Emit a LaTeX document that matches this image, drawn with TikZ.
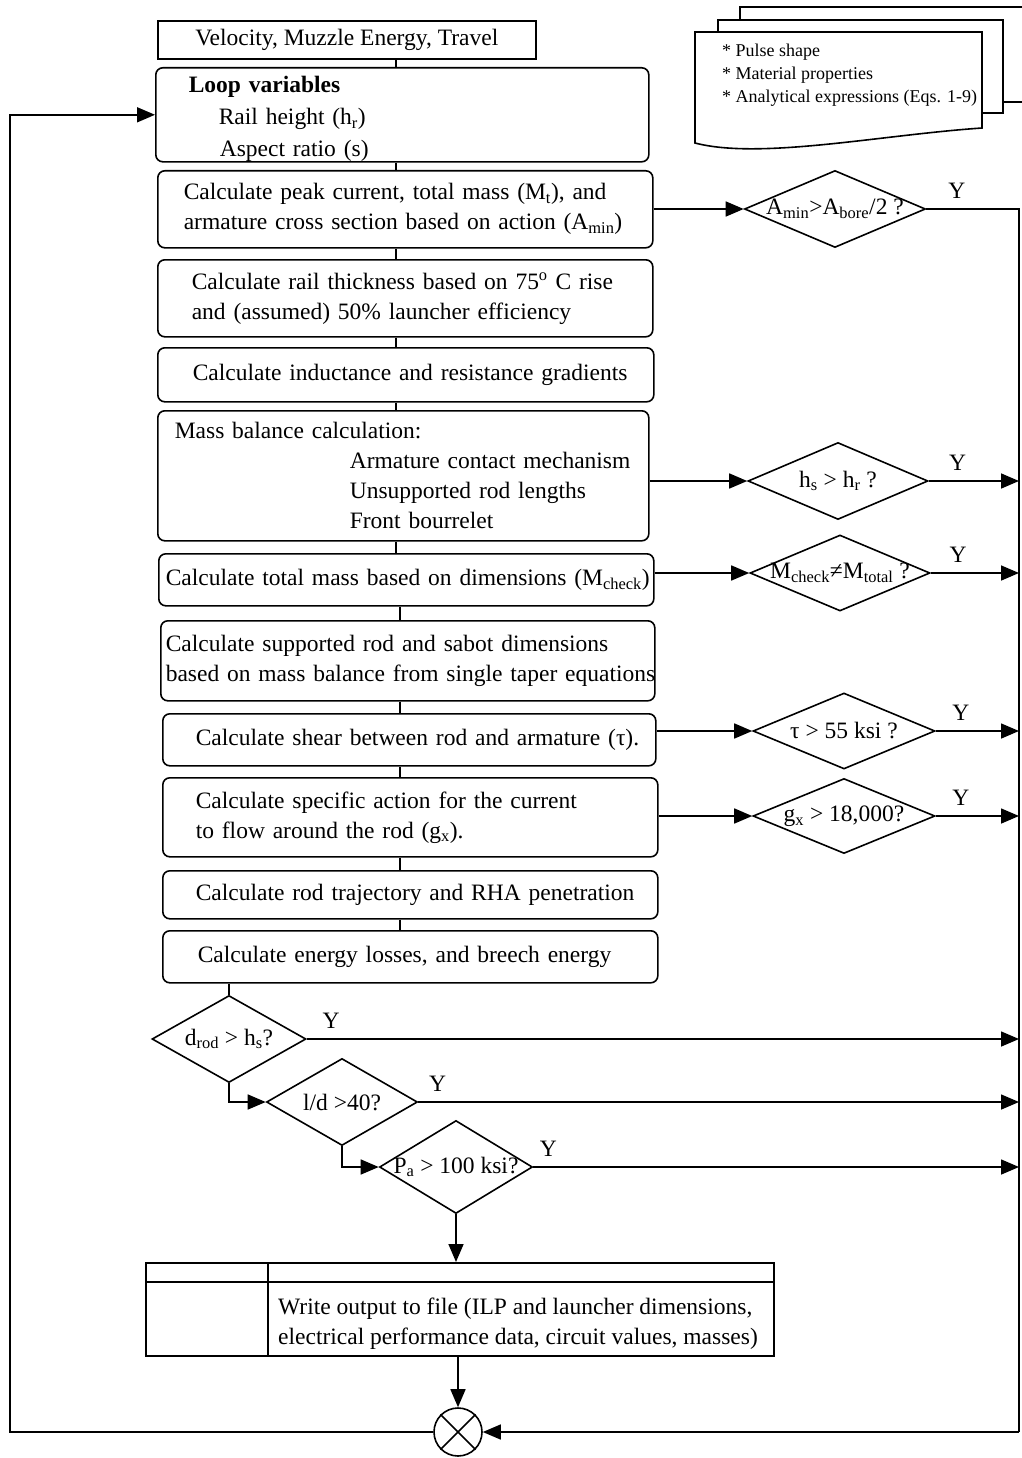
\documentclass[tikz,border=0pt]{standalone}
\usepackage{fontspec}
\setmainfont{Liberation Serif}
\usepackage{tikz}
\usetikzlibrary{positioning, arrows.meta, calc, shapes.geometric}

\newcommand{\qt}[1]{\makebox[0pt]{#1}}
\newcommand{\sub}[1]{\textsubscript{#1}}

\tikzset{
  stage/.style={draw, rounded corners=7pt, line width=1.6pt, anchor=north west, align=left, inner ysep=0pt},
  test/.style={draw, diamond, line width=1.6pt, inner sep=0pt},
  link/.style={line width=1.6pt},
  flow/.style={line width=1.6pt, -{Triangle[length=18pt,width=15pt]}},
  yes/.style={above=8pt, inner sep=2pt},
}

\begin{document}
\begin{tikzpicture}[x=1pt, y=-1pt, font=\fontsize{23.5}{30}\selectfont]
\useasboundingbox (0,0) rectangle (1021,1458);

% input sheets
\filldraw[fill=white, line width=1.3pt] (740,7) rectangle (1040,102);
\filldraw[fill=white, line width=1.3pt] (718,20) rectangle (1003,113);
\filldraw[fill=white, line width=1.6pt] (695,143) -- (695,32) -- (982,32) -- (982,128)
  .. controls (880,135) and (760,160) .. (695,143) -- cycle;
\node[anchor=north west, align=left, inner sep=0pt, font=\fontsize{18}{23}\selectfont] (notes) at (722,44)
  {* Pulse shape\\* Material properties\\* Analytical expressions (Eqs. 1-9)};

% main column
\node[draw, line width=1.6pt, anchor=north west, minimum width=378pt, minimum height=38pt, inner sep=0pt] (result) at (157,20)
  {Velocity, Muzzle Energy, Travel};
\node[stage, minimum height=93pt, text width=427pt, inner xsep=33pt, text height=25pt, font=\fontsize{23.5}{32}\selectfont] (loop) at (155,67)
  {\textbf{Loop variables}\\\hspace*{30pt}Rail height (h\sub{r})\\\hspace*{31pt}Aspect ratio (s)};
\node[stage, minimum height=77pt, text width=443pt, inner xsep=26pt] (mass) at (157,170)
  {\mbox{Calculate peak current, total mass (M\sub{t}), and}\\\mbox{armature cross section based on action (A\sub{min})}};
\node[stage, minimum height=77pt, text width=427pt, inner xsep=34pt] (rail) at (157,259)
  {\mbox{Calculate rail thickness based on 75\textsuperscript{o} C rise}\\\mbox{and (assumed) 50\% launcher efficiency}};
\node[stage, minimum height=54pt, text width=426pt, inner xsep=35pt] (grad) at (157,347)
  {\mbox{Calculate inductance and resistance gradients}};
\node[stage, minimum height=130pt, text width=457pt, inner xsep=17pt] (balance) at (157,410)
  {Mass balance calculation:\\\mbox{\hspace{175pt}Armature contact mechanism}\\\mbox{\hspace{175pt}Unsupported rod lengths}\\\mbox{\hspace{175pt}Front bourrelet}};
\node[stage, minimum height=52pt, text width=481pt, inner xsep=7pt] (check) at (158,553)
  {\mbox{Calculate total mass based on dimensions (M\sub{check})}};
\node[stage, minimum height=80pt, text width=484pt, inner xsep=5pt] (rod) at (160,620)
  {\mbox{Calculate supported rod and sabot dimensions}\\\mbox{based on mass balance from single taper equations}};
\node[stage, minimum height=52pt, text width=427pt, inner xsep=33pt] (shear) at (162,713)
  {\mbox{Calculate shear between rod and armature (τ).}};
\node[stage, minimum height=79pt, text width=429pt, inner xsep=33pt] (action) at (162,777)
  {\mbox{Calculate specific action for the current}\\\mbox{to flow around the rod (g\sub{x}).}};
\node[stage, minimum height=48pt, text width=429pt, inner xsep=33pt] (traj) at (162,870)
  {\mbox{Calculate rod trajectory and RHA penetration}};
\node[stage, minimum height=52pt, text width=425pt, inner xsep=35pt] (loss) at (162,930)
  {\mbox{Calculate energy losses, and breech energy}};

% checks on the right
\node[test, minimum width=181pt, minimum height=77pt] (dA) at (835,209) {\qt{A\sub{min}>A\sub{bore}/2 ?}};
\node[test, minimum width=180pt, minimum height=77pt] (dB) at (838,481) {\qt{h\sub{s} > h\sub{r} ?}};
\node[test, minimum width=180pt, minimum height=76pt] (dC) at (840,573) {\qt{M\sub{check}≠M\sub{total} ?}};
\node[test, minimum width=182pt, minimum height=76pt] (dD) at (844,731) {\qt{τ > 55 ksi ?}};
\node[test, minimum width=182pt, minimum height=75pt] (dE) at (844,816) {\qt{g\sub{x} > 18,000?}};

% checks at the bottom
\node[test, minimum width=154pt, minimum height=87pt] (d1) at (229,1039) {\qt{d\sub{rod} > h\sub{s}?}};
\node[test, minimum width=151pt, minimum height=87pt] (d2) at (342,1102) {\qt{l/d >40?}};
\node[test, minimum width=153pt, minimum height=93pt] (d3) at (456,1167) {\qt{P\sub{a} > 100 ksi?}};

% output
\node[draw, line width=1.6pt, anchor=north west, minimum width=628pt, minimum height=93pt, inner sep=0pt] (out) at (145,1262) {};
\draw[link] ([yshift=-20pt]out.north west) -- ([yshift=-20pt]out.north east);
\draw[link] ([xshift=123pt]out.north west) -- ([xshift=123pt]out.south west);
\node[anchor=west, align=left, inner sep=0pt] (write) at ([xshift=133pt, yshift=-62pt]out.north west)
  {Write output to file (ILP and launcher dimensions,\\electrical performance data, circuit values, masses)};

\node[draw, circle, line width=1.6pt, minimum size=48pt, inner sep=0pt] (merge) at (458,1432) {};
\draw[link] (merge.north west) -- (merge.south east);
\draw[link] (merge.north east) -- (merge.south west);

% spine
\coordinate (spine) at (396,0);
\coordinate (spine2) at (400,0);
\draw[link] (result.south -| spine) -- (loop.north -| spine);
\draw[link] (loop.south -| spine) -- (mass.north -| spine);
\draw[link] (mass.south -| spine) -- (rail.north -| spine);
\draw[link] (rail.south -| spine) -- (grad.north -| spine);
\draw[link] (grad.south -| spine) -- (balance.north -| spine);
\draw[link] (balance.south -| spine) -- (check.north -| spine);
\draw[link] (check.south -| spine2) -- (rod.north -| spine2);
\draw[link] (rod.south -| spine2) -- (shear.north -| spine2);
\draw[link] (shear.south -| spine2) -- (action.north -| spine2);
\draw[link] (action.south -| spine2) -- (traj.north -| spine2);
\draw[link] (traj.south -| spine2) -- (loss.north -| spine2);
\draw[link] (loss.south -| d1.north) -- (d1.north);
\draw[flow] (d1.south) |- (d2.west);
\draw[flow] (d2.south) |- (d3.west);
\draw[flow] (d3.south) -- (d3.south |- out.north);
\draw[flow] (out.south -| merge) -- (merge.north);

% loop back
\coordinate (back) at (10,1432);
\draw[flow] (merge.west) -- (back) |- (loop.west);

% into the checks
\draw[flow] (mass.east |- dA.west) -- (dA.west);
\draw[flow] (balance.east |- dB.west) -- (dB.west);
\draw[flow] (check.east |- dC.west) -- (dC.west);
\draw[flow] (shear.east |- dD.west) -- (dD.west);
\draw[flow] (action.east |- dE.west) -- (dE.west);

% yes branches
\coordinate (busend) at (1019,1432);
\draw[link] (dA.east) -- node[yes, pos=0.33] {Y} (dA.east -| busend) -- (busend);
\draw[flow] (busend) -- (merge.east);
\draw[flow] (dB.east) -- node[yes, pos=0.32] {Y} (dB.east -| busend);
\draw[flow] (dC.east) -- node[yes, pos=0.31] {Y} (dC.east -| busend);
\draw[flow] (dD.east) -- node[yes, pos=0.3] {Y} (dD.east -| busend);
\draw[flow] (dE.east) -- node[yes, pos=0.3] {Y} (dE.east -| busend);
\draw[flow] (d1.east) -- node[yes, pos=0.034] {Y} (d1.east -| busend);
\draw[flow] (d2.east) -- node[yes, pos=0.032] {Y} (d2.east -| busend);
\draw[flow] (d3.east) -- node[yes, pos=0.031] {Y} (d3.east -| busend);
\end{tikzpicture}
\end{document}
